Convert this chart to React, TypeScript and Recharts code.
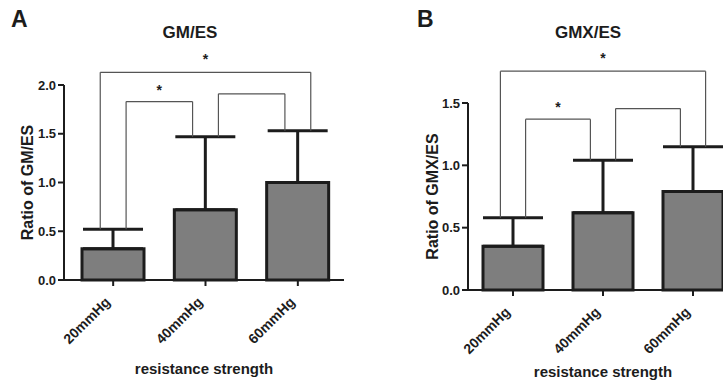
import { Bar, BarChart, ErrorBar, ReferenceLine, XAxis, YAxis } from 'recharts'

const categories = ['20mmHg', '40mmHg', '60mmHg']
const gmMean = [0.32, 0.72, 1.0]
const gmSd = [0.2, 0.75, 0.53]
const gmxMean = [0.35, 0.62, 0.79]
const gmxSd = [0.23, 0.42, 0.36]
const gmTicks = [0, 0.5, 1, 1.5, 2]
const gmxTicks = [0, 0.5, 1, 1.5]

// significance brackets between groups (indexes into categories), level = bracket height
const gmBrackets = [
  { from: 0, to: 1, level: 1.83, star: true },
  { from: 1, to: 2, level: 1.91, star: false },
  { from: 0, to: 2, level: 2.13, star: true },
]
const gmxBrackets = [
  { from: 0, to: 1, level: 1.37, star: true },
  { from: 1, to: 2, level: 1.455, star: false },
  { from: 0, to: 2, level: 1.755, star: true },
]

const FONT = 'Arial, "Liberation Sans", sans-serif'
const INK = '#1c1c1c'
const BRACKET = '#555'
const LEG = 0.14 // leg offset from group centre, in category units

type Bracket = { from: number; to: number; level: number; star: boolean }

function AngledTick({ x, y, payload }: any) {
  return (
    <text
      transform={`translate(${x - 2},${y + 15}) rotate(-45)`}
      textAnchor="end"
      fontFamily={FONT}
      fontWeight="bold"
      fontSize={14}
      fill={INK}
    >
      {payload.value}
    </text>
  )
}

function Panel({
  mean,
  sd,
  ticks,
  brackets,
  yLabel,
  width,
  margin,
  xHeight,
  barSize,
  padLeft,
  labelDx,
}: {
  mean: number[]
  sd: number[]
  ticks: number[]
  brackets: Bracket[]
  yLabel: string
  width: number
  margin: { top: number; right: number; bottom: number; left: number }
  xHeight: number
  barSize: number
  padLeft: number
  labelDx: number
}) {
  const data = categories.map((c, i) => ({ name: c, pos: i + 0.5, value: mean[i], err: [0, sd[i]] }))
  const top = (i: number) => mean[i] + sd[i]
  const lines: JSX.Element[] = []
  brackets.forEach((b, k) => {
    const outer = b.to - b.from > 1
    const x1 = b.from + 0.5 + (outer ? -LEG : LEG)
    const x2 = b.to + 0.5 + (outer ? LEG : -LEG)
    const common = { xAxisId: 'n', stroke: BRACKET, strokeWidth: 1.2, ifOverflow: 'visible' as const }
    lines.push(
      <ReferenceLine key={`l${k}`} {...common} segment={[{ x: x1, y: top(b.from) }, { x: x1, y: b.level }]} />,
      <ReferenceLine key={`r${k}`} {...common} segment={[{ x: x2, y: top(b.to) }, { x: x2, y: b.level }]} />,
      <ReferenceLine
        key={`h${k}`}
        {...common}
        segment={[{ x: x1, y: b.level }, { x: x2, y: b.level }]}
        label={
          b.star
            ? {
                value: '*',
                position: 'top',
                offset: outer ? 8 : 7,
                fontSize: 14,
                fontWeight: 'bold',
                fill: INK,
                fontFamily: FONT,
              }
            : undefined
        }
      />,
    )
  })
  return (
    <BarChart width={width} height={383} data={data} margin={margin}>
      <XAxis
        dataKey="name"
        height={xHeight}
        padding={{ left: padLeft, right: 0 }}
        tickLine={{ stroke: INK, strokeWidth: 2 }}
        axisLine={{ stroke: INK, strokeWidth: 2 }}
        tickSize={6}
        tick={<AngledTick />}
        interval={0}
        label={{
          value: 'resistance strength',
          position: 'insideBottom',
          offset: 1,
          fontFamily: FONT,
          fontWeight: 'bold',
          fontSize: 15,
          fill: INK,
        }}
      />
      <XAxis
        xAxisId="n"
        dataKey="pos"
        type="number"
        domain={[0, 3]}
        allowDataOverflow
        hide
        padding={{ left: padLeft, right: 0 }}
      />
      <YAxis
        width={50}
        domain={[0, ticks[ticks.length - 1]]}
        ticks={ticks}
        tickFormatter={(v: number) => v.toFixed(1)}
        tickSize={6}
        tickLine={{ stroke: INK, strokeWidth: 2 }}
        axisLine={{ stroke: INK, strokeWidth: 2 }}
        tick={{ fontFamily: FONT, fontWeight: 'bold', fontSize: 13, fill: INK }}
        label={{
          value: yLabel,
          angle: -90,
          position: 'center',
          dx: labelDx,
          fontFamily: FONT,
          fontWeight: 'bold',
          fontSize: 16,
          fill: INK,
        }}
      />
      <Bar dataKey="value" fill="#7e7e7e" stroke={INK} strokeWidth={3} barSize={barSize} isAnimationActive={false}>
        <ErrorBar dataKey="err" direction="y" width={30} stroke={INK} strokeWidth={3} isAnimationActive={false} />
      </Bar>
      {lines}
    </BarChart>
  )
}

const abs = (left: number, top: number, size: number) => ({
  position: 'absolute' as const,
  left,
  top,
  fontFamily: FONT,
  fontWeight: 'bold' as const,
  fontSize: size,
  color: INK,
  lineHeight: 1,
  whiteSpace: 'nowrap' as const,
})

export default function App() {
  return (
    <div
      style={{ position: 'fixed', left: 0, top: 0, width: 723, height: 383, overflow: 'hidden', background: '#fff' }}
    >
      <div style={{ position: 'absolute', left: 0, top: 0 }}>
        <Panel
          mean={gmMean}
          sd={gmSd}
          ticks={gmTicks}
          brackets={gmBrackets}
          yLabel="Ratio of GM/ES"
          width={360}
          margin={{ top: 85, right: 16, bottom: 8, left: 14 }}
          xHeight={95}
          barSize={62}
          padLeft={3}
          labelDx={-12}
        />
      </div>
      <div style={{ position: 'absolute', left: 360, top: 0 }}>
        <Panel
          mean={gmxMean}
          sd={gmxSd}
          ticks={gmxTicks}
          brackets={gmxBrackets}
          yLabel="Ratio of GMX/ES"
          width={390}
          margin={{ top: 103, right: 12, bottom: 5, left: 58 }}
          xHeight={88}
          barSize={60}
          padLeft={0}
          labelDx={-11}
        />
      </div>
      <div style={abs(11, 8, 23)}>A</div>
      <div style={abs(417, 8, 23)}>B</div>
      <div style={{ ...abs(190, 24, 17), transform: 'translateX(-50%)' }}>GM/ES</div>
      <div style={{ ...abs(588, 24, 17), transform: 'translateX(-50%)' }}>GMX/ES</div>
    </div>
  )
}
